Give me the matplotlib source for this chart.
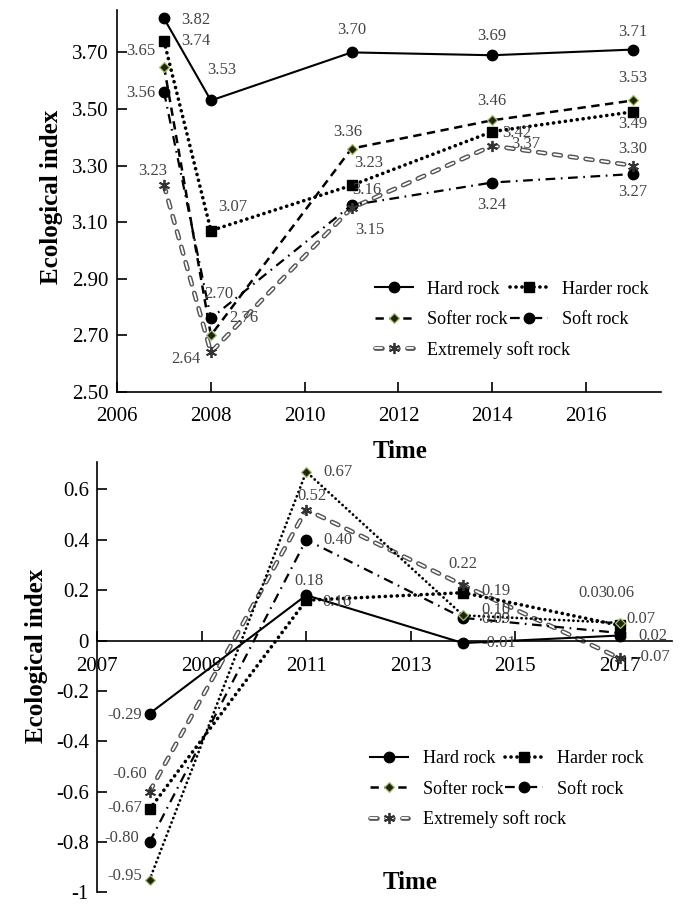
import numpy as np
import matplotlib.pyplot as plt
from matplotlib.legend_handler import HandlerTuple

plt.rcParams['font.family'] = ['Liberation Serif', 'DejaVu Serif']
plt.rcParams['lines.scale_dashes'] = False

rocks = ["Hard rock", "Harder rock", "Softer rock", "Soft rock", "Extremely soft rock"]

years_top = [2007, 2008, 2011, 2014, 2017]
hard_top = [3.82, 3.53, 3.70, 3.69, 3.71]
harder_top = [3.74, 3.07, 3.23, 3.42, 3.49]
softer_top = [3.65, 2.70, 3.36, 3.46, 3.53]
soft_top = [3.56, 2.76, 3.16, 3.24, 3.27]
ext_top = [3.23, 2.64, 3.15, 3.37, 3.30]

years_bot = [2008, 2011, 2014, 2017]
hard_bot = [-0.29, 0.18, -0.01, 0.02]
harder_bot = [-0.67, 0.16, 0.19, 0.06]
softer_bot = [-0.95, 0.67, 0.10, 0.07]
soft_bot = [-0.80, 0.40, 0.09, 0.03]
ext_bot = [-0.60, 0.52, 0.22, -0.07]

# label offsets in points (dx, dy) per series per point
off_top = {
    "hard": [(23, -1), (8, 22), (0, 16), (0, 14), (0, 13)],
    "harder": [(23, 0), (16, 17), (12, 16), (18, -1), (0, -9)],
    "softer": [(-17, 11), (6, 30), (-3, 12), (0, 14), (0, 16)],
    "soft": [(-17, -1), (24, 0), (11, 11), (0, -16), (0, -13)],
    "ext": [(-8, 10), (-18, -5), (13, -16), (24, 1), (0, 12)],
}
off_bot = {
    "hard": [(-18, -1), (2, 10), (26, 0), (24, 0)],
    "harder": [(-18, 1), (22, -1), (24, 1), (0, 23)],
    "softer": [(-18, 3), (23, 0), (24, 4), (15, 3)],
    "soft": [(-20, 3), (23, 0), (24, -1), (-19, 29)],
    "ext": [(-14, 13), (4, 10), (0, 15), (24, 1)],
}

GREY = '#444444'


def draw_ext(ax, x, y):
    outer, = ax.plot(x, y, color='#555555', lw=3.4, dashes=(5, 6.5),
                     dash_capstyle='round', zorder=2)
    inner, = ax.plot(x, y, color='white', lw=1.3, dashes=(5, 6.5),
                     dash_capstyle='round', zorder=2.1)
    mk, = ax.plot(x, y, ls='none', marker=(6, 2, 0), ms=8, mew=1.3,
                  color='#333333', zorder=4)
    return (outer, inner, mk)


def draw_panel(ax, x, hard, harder, softer, soft, ext, softer_dotted):
    h1, = ax.plot(x, hard, color='black', lw=1.5, marker='o', ms=7.5, zorder=3)
    h2, = ax.plot(x, harder, color='black', lw=2.6, dashes=(0.1, 4.2),
                  dash_capstyle='round', marker='s', ms=7.5, zorder=3)
    if softer_dotted:
        ax.plot(x, softer, color='black', lw=2.0, dashes=(0.1, 3.3),
                dash_capstyle='round', zorder=3)
    else:
        ax.plot(x, softer, color='black', lw=1.8, dashes=(6, 4), zorder=3)
    h3a, = ax.plot([], [], color='black', lw=1.8, dashes=(6, 4))
    h3b, = ax.plot(x, softer, ls='none', marker='D', ms=5.5, mfc='#1c2608',
                   mec='#a9c266', mew=0.9, zorder=4)
    h4, = ax.plot(x, soft, color='black', lw=1.6, dashes=(7, 4, 1.2, 4),
                  marker='o', ms=7.5, zorder=3)
    h5 = draw_ext(ax, x, ext)
    return [h1, (h3a, h3b), h2, h4, h5]


def annotate(ax, x, series, offs):
    for key, vals in series.items():
        for xi, v, (dx, dy) in zip(x, vals, offs[key]):
            ax.annotate("{:.2f}".format(v), (xi, v), xytext=(dx, dy),
                        textcoords='offset points', ha='center', va='center',
                        fontsize=12, color=GREY, zorder=5)


def style_axes(ax):
    ax.patch.set_visible(False)
    for s in ['top', 'right']:
        ax.spines[s].set_visible(False)
    for s in ['left', 'bottom']:
        ax.spines[s].set_linewidth(1.2)
    ax.tick_params(direction='in', length=7, width=1.2, labelsize=15)
    ax.tick_params(axis='y', pad=6)


def add_legends(ax, handles, x0, y_rows, y_last):
    kw = dict(frameon=False, fontsize=13, loc='center left', borderpad=0, borderaxespad=0,
              handler_map={tuple: HandlerTuple(ndivide=1, pad=0)},
              handlelength=2.1, handletextpad=0.8)
    leg1 = ax.legend([handles[0], handles[1], handles[2], handles[3]],
                     [rocks[0], rocks[2], rocks[1], rocks[3]], ncol=2,
                     bbox_to_anchor=(x0, y_rows), columnspacing=0.1, labelspacing=0.75, **kw)
    ax.add_artist(leg1)
    ax.legend([handles[4]], [rocks[4]], bbox_to_anchor=(x0, y_last), **kw)


fig = plt.figure(figsize=(6.85, 9.07), dpi=100)

# top panel
ax1 = fig.add_axes([0.171, 0.568, 0.794, 0.421])
handles = draw_panel(ax1, years_top, hard_top, harder_top, softer_top, soft_top, ext_top, False)
annotate(ax1, years_top, {"hard": hard_top, "harder": harder_top, "softer": softer_top,
                          "soft": soft_top, "ext": ext_top}, off_top)
ax1.set_xlim(2006, 2017.6)
ax1.set_ylim(2.5, 3.85)
ax1.set_xticks(np.arange(2006, 2017, 2))
ax1.set_yticks(np.arange(2.5, 3.71, 0.2))
ax1.yaxis.set_major_formatter(plt.FormatStrFormatter('%.2f'))
style_axes(ax1)
ax1.tick_params(axis='x', pad=11)
ax1.set_xlabel("Time", fontsize=18, fontweight='bold')
ax1.set_ylabel("Ecological index", fontsize=18, fontweight='bold')
ax1.xaxis.set_label_coords(0.52, -0.125)
ax1.yaxis.set_label_coords(-0.1, 0.51)
add_legends(ax1, handles, 0.474, 0.229, 0.11)

# bottom panel
ax2 = fig.add_axes([0.142, 0.016, 0.839, 0.475])
handles = draw_panel(ax2, years_bot, hard_bot, harder_bot, softer_bot, soft_bot, ext_bot, True)
annotate(ax2, years_bot, {"hard": hard_bot, "harder": harder_bot, "softer": softer_bot,
                          "soft": soft_bot, "ext": ext_bot}, off_bot)
ax2.set_xlim(2007, 2018)
ax2.set_ylim(-1, 0.71)
ax2.set_xticks(np.arange(2007, 2018, 2))
ax2.set_yticks([-1, -0.8, -0.6, -0.4, -0.2, 0, 0.2, 0.4, 0.6])
ax2.set_yticklabels(['-1', '-0.8', '-0.6', '-0.4', '-0.2', '0', '0.2', '0.4', '0.6'])
style_axes(ax2)
ax2.spines['bottom'].set_position(('data', 0))
ax2.tick_params(axis='x', pad=12)
ax2.set_xlabel("Time", fontsize=18, fontweight='bold')
ax2.set_ylabel("Ecological index", fontsize=18, fontweight='bold')
ax2.xaxis.set_label_coords(0.544, 0.05)
ax2.yaxis.set_label_coords(-0.085, 0.55)
add_legends(ax2, handles, 0.475, 0.275, 0.170)

fig.savefig("out.png", dpi=100)
